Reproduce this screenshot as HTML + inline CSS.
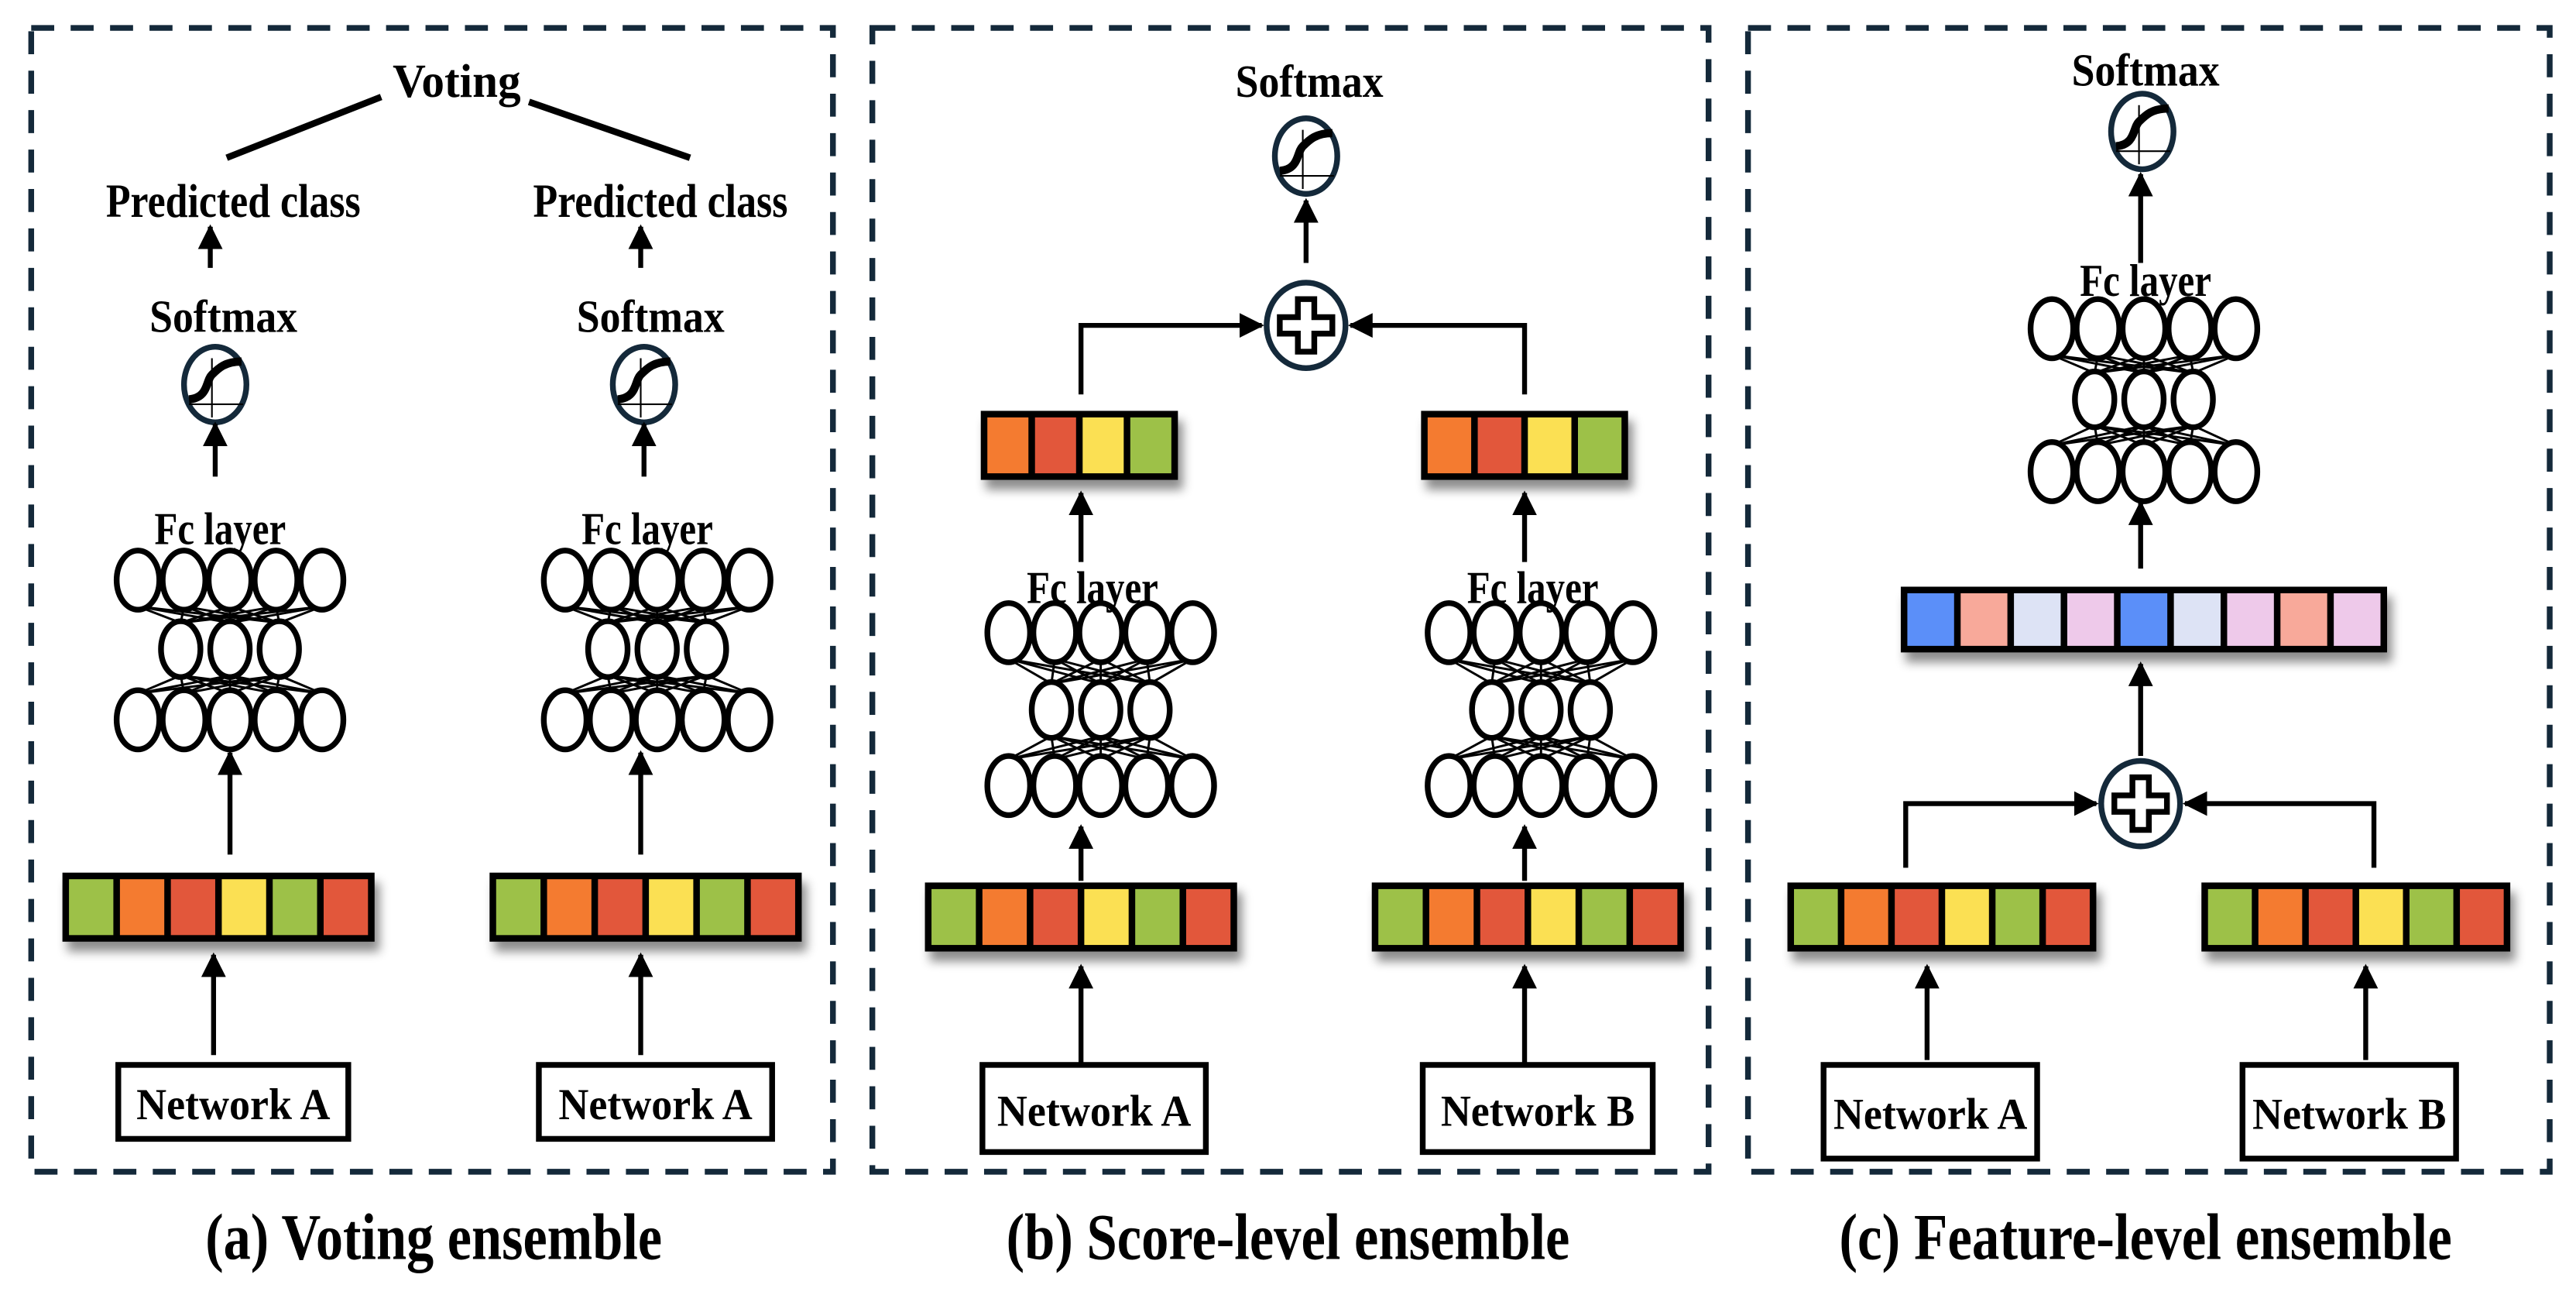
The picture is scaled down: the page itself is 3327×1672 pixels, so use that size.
<!DOCTYPE html>
<html><head><meta charset="utf-8"><style>
html,body{margin:0;padding:0;background:#fff;width:3327px;height:1672px;overflow:hidden}
svg{display:block}
text{font-family:"Liberation Serif",serif;font-weight:bold;fill:#000}
</style></head><body>
<svg id="s" width="3327" height="1672" viewBox="0 0 1568 788" preserveAspectRatio="none" xmlns="http://www.w3.org/2000/svg">
<defs>
<marker id="ah" viewBox="0 0 10 10" refX="9" refY="5" markerWidth="5" markerHeight="5" orient="auto" markerUnits="strokeWidth"><path d="M0,0 L10,5 L0,10 z" fill="#000"/></marker>
<filter id="sh" x="-10%" y="-30%" width="130%" height="180%"><feDropShadow dx="3" dy="6" stdDeviation="3" flood-color="#000" flood-opacity="0.45"/></filter>
</defs>
<g fill="none" stroke="#14293a" stroke-width="3.5" stroke-dasharray="14,10">
<rect x="19" y="17" width="488" height="696"/>
<rect x="531" y="17" width="509" height="696"/>
<rect x="1064" y="17" width="488" height="696"/>
</g>
<g id="g"></g>
<g text-anchor="middle">
<text x="278" y="59" font-size="29" textLength="78" lengthAdjust="spacingAndGlyphs">Voting</text>
<text x="142" y="132" font-size="29" textLength="155" lengthAdjust="spacingAndGlyphs">Predicted class</text>
<text x="402" y="132" font-size="29" textLength="155" lengthAdjust="spacingAndGlyphs">Predicted class</text>
<text x="136" y="202" font-size="28" textLength="90" lengthAdjust="spacingAndGlyphs">Softmax</text>
<text x="396" y="202" font-size="28" textLength="90" lengthAdjust="spacingAndGlyphs">Softmax</text>
<text x="134" y="331" font-size="28" textLength="80" lengthAdjust="spacingAndGlyphs">Fc layer</text>
<text x="394" y="331" font-size="28" textLength="80" lengthAdjust="spacingAndGlyphs">Fc layer</text>
<text x="142" y="681" font-size="27" textLength="118" lengthAdjust="spacingAndGlyphs">Network A</text>
<text x="399" y="681" font-size="27" textLength="118" lengthAdjust="spacingAndGlyphs">Network A</text>
<text x="797" y="59" font-size="28" textLength="90" lengthAdjust="spacingAndGlyphs">Softmax</text>
<text x="665" y="367" font-size="28" textLength="80" lengthAdjust="spacingAndGlyphs">Fc layer</text>
<text x="933" y="367" font-size="28" textLength="80" lengthAdjust="spacingAndGlyphs">Fc layer</text>
<text x="666" y="685" font-size="27" textLength="118" lengthAdjust="spacingAndGlyphs">Network A</text>
<text x="936" y="685" font-size="27" textLength="118" lengthAdjust="spacingAndGlyphs">Network B</text>
<text x="1306" y="52" font-size="28" textLength="90" lengthAdjust="spacingAndGlyphs">Softmax</text>
<text x="1306" y="180" font-size="28" textLength="80" lengthAdjust="spacingAndGlyphs">Fc layer</text>
<text x="1175" y="687" font-size="27" textLength="118" lengthAdjust="spacingAndGlyphs">Network A</text>
<text x="1430" y="687" font-size="27" textLength="118" lengthAdjust="spacingAndGlyphs">Network B</text>
<text x="264" y="766" font-size="40" textLength="278" lengthAdjust="spacingAndGlyphs">(a) Voting ensemble</text>
<text x="784" y="766" font-size="40" textLength="343" lengthAdjust="spacingAndGlyphs">(b) Score-level ensemble</text>
<text x="1306" y="766" font-size="40" textLength="373" lengthAdjust="spacingAndGlyphs">(c) Feature-level ensemble</text>
</g>
</svg>
<script>
var g=document.getElementById('g'),h='';
function L(x1,y1,x2,y2,w){h+='<line x1="'+x1+'" y1="'+y1+'" x2="'+x2+'" y2="'+y2+'" stroke="#000" stroke-width="'+(w||3)+'"/>';}
function A(x1,y1,x2,y2){h+='<line x1="'+x1+'" y1="'+y1+'" x2="'+x2+'" y2="'+y2+'" stroke="#000" stroke-width="3" marker-end="url(#ah)"/>';}
function P(d){h+='<path d="'+d+'" fill="none" stroke="#000" stroke-width="3" marker-end="url(#ah)"/>';}
function box(x,y,w,hh){h+='<rect x="'+x+'" y="'+y+'" width="'+w+'" height="'+hh+'" fill="#fff" stroke="#000" stroke-width="3.5"/>';}
function bar(x,y,w,hh,cols){h+='<rect x="'+x+'" y="'+y+'" width="'+w+'" height="'+hh+'" fill="#000" filter="url(#sh)"/>';
 var n=cols.length,b=4,cw=(w-b)/n;for(var i=0;i<n;i++)h+='<rect x="'+(x+b+i*cw)+'" y="'+(y+b)+'" width="'+(cw-b)+'" height="'+(hh-2*b)+'" fill="'+cols[i]+'"/>';}
function sig(cx,cy){h+='<ellipse cx="'+cx+'" cy="'+cy+'" rx="19" ry="23" fill="#fff" stroke="#14293a" stroke-width="3.5"/>';
 h+='<line x1="'+(cx-16)+'" y1="'+(cy+12)+'" x2="'+(cx+17)+'" y2="'+(cy+12)+'" stroke="#000" stroke-width="1"/>';
 h+='<line x1="'+(cx-2)+'" y1="'+(cy-16)+'" x2="'+(cx-2)+'" y2="'+(cy+20)+'" stroke="#000" stroke-width="1"/>';
 h+='<path d="M'+(cx-16)+','+(cy+9)+' C'+(cx-4)+','+(cy+8)+' '+(cx-6)+','+(cy-2)+' '+(cx-2)+','+(cy-6)+' S'+(cx+6)+','+(cy-14)+' '+(cx+16)+','+(cy-14)+'" fill="none" stroke="#000" stroke-width="5"/>';}
function plus(cx,cy){h+='<ellipse cx="'+cx+'" cy="'+cy+'" rx="24" ry="26" fill="#fff" stroke="#14293a" stroke-width="3.5"/>';
 h+='<path d="M'+(cx-5)+','+(cy-16)+' h10 v11 h11 v10 h-11 v11 h-10 v-11 h-11 v-10 h11 z" fill="#fff" stroke="#000" stroke-width="3.5"/>';}
function nn(cx,yt,ym,yb){var top=[-56,-28,0,28,56],mid=[-30,0,30],i,j;
 for(i=0;i<5;i++)for(j=0;j<3;j++){L(cx+top[i],yt+16,cx+mid[j],ym-16,1.4);L(cx+mid[j],ym+16,cx+top[i],yb-16,1.4);}
 for(i=0;i<5;i++){h+='<ellipse cx="'+(cx+top[i])+'" cy="'+yt+'" rx="13" ry="18" fill="#fff" stroke="#000" stroke-width="3.5"/>';
  h+='<ellipse cx="'+(cx+top[i])+'" cy="'+yb+'" rx="13" ry="18" fill="#fff" stroke="#000" stroke-width="3.5"/>';}
 for(j=0;j<3;j++)h+='<ellipse cx="'+(cx+mid[j])+'" cy="'+ym+'" rx="12" ry="17" fill="#fff" stroke="#000" stroke-width="3.5"/>';}
var G='#9dc148',O='#f47b30',R='#e2573b',Y='#fbe053';
var six=[G,O,R,Y,G,R],four=[O,R,Y,G];
L(138,96,232,59,4);L(322,62,420,96,4);
[[128,131],[390,392]].forEach(function(p){var x=p[0],s=p[1];
 A(x,163,x,138);sig(s,234);A(s,290,s,258);});
nn(140,353,395,438);nn(400,353,395,438);
A(140,520,140,458);A(390,520,390,458);
bar(38,531,190,42,six);bar(298,531,190,42,six);
A(130,642,130,581);A(390,642,390,581);
box(72,648,140,45);box(328,648,142,45);
sig(795,95);A(795,160,795,122);plus(795,198);
P('M658,240 L658,198 L768,198');P('M928,240 L928,198 L822,198');
bar(597,250,120,42,four);bar(865,250,126,42,four);
A(658,342,658,300);A(928,342,928,300);
nn(670,385,432,478);nn(938,385,432,478);
A(658,536,658,503);A(928,536,928,503);
bar(563,537,190,42,six);bar(835,537,190,42,six);
A(658,648,658,588);A(928,648,928,588);
box(598,648,136,53);box(866,648,140,53);
sig(1304,80);A(1303,160,1303,106);
nn(1305,200,243,287);A(1303,346,1303,306);
bar(1157,357,296,40,['#5b8ff9','#f8a99a','#dde3f5','#eec9ea','#5b8ff9','#dde3f5','#eec9ea','#f8a99a','#eec9ea']);
A(1303,460,1303,404);plus(1303,489);
P('M1160,528 L1160,489 L1276,489');P('M1445,528 L1445,489 L1330,489');
bar(1088,537,188,42,six);bar(1340,537,188,42,six);
A(1173,645,1173,588);A(1440,645,1440,588);
box(1110,648,130,57);box(1365,648,130,57);
g.innerHTML=h;
</script>
</body></html>
